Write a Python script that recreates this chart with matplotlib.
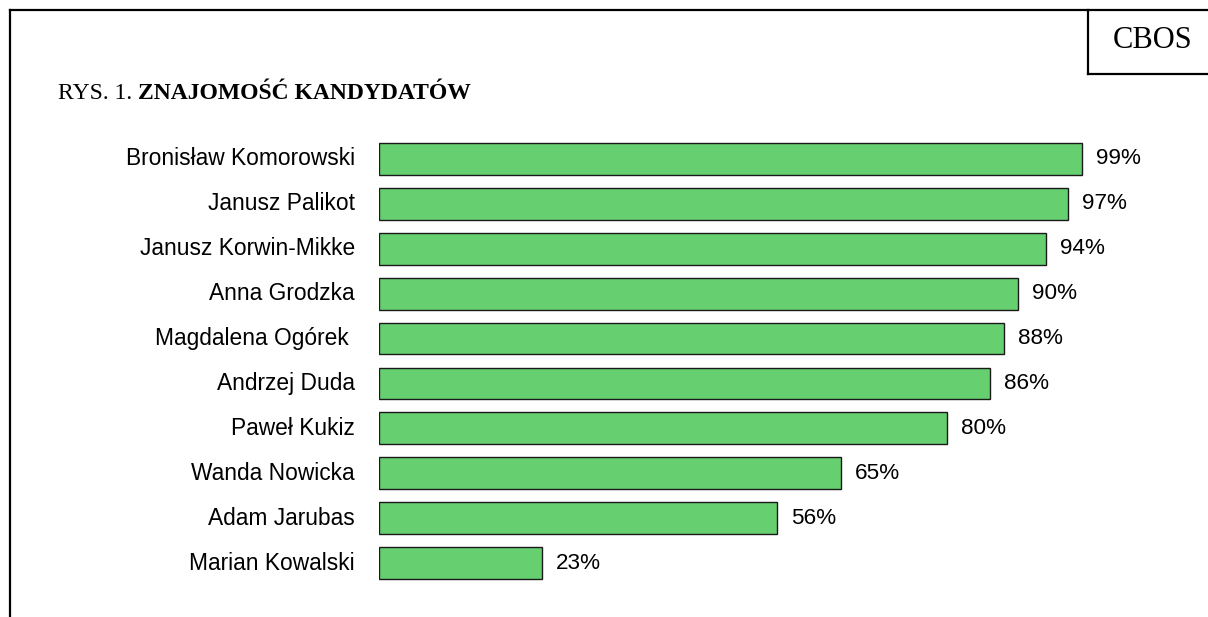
import matplotlib
matplotlib.use('Agg')
import matplotlib.pyplot as plt
from matplotlib.lines import Line2D

# Candidates and how many respondents know them (%)
candidates = ['Bronisław Komorowski', 'Janusz Palikot', 'Janusz Korwin-Mikke',
              'Anna Grodzka', 'Magdalena Ogórek ', 'Andrzej Duda', 'Paweł Kukiz',
              'Wanda Nowicka', 'Adam Jarubas', 'Marian Kowalski']
known = [99, 97, 94, 90, 88, 86, 80, 65, 56, 23]

W, H = 1208, 617
fig = plt.figure(figsize=(W / 100, H / 100), dpi=100)

# Axes placed so that 0% sits at x=379 px and 100% at x=1089 px
ax = fig.add_axes([379 / W, 1 - 585.5 / H, 710 / W, 449 / H])
pos = list(range(len(candidates)))
ax.barh(pos, known, height=0.71, color='#66cf70', edgecolor='#1a1a1a', linewidth=1.0)
ax.set_xlim(0, 100)
ax.set_ylim(len(candidates) - 0.5, -0.5)
ax.axis('off')

for y, name, v in zip(pos, candidates, known):
    ax.annotate(name, xy=(0, y), xytext=(-24, 0), textcoords='offset pixels',
                ha='right', va='center', fontsize=16.4, family='Liberation Sans')
    ax.annotate(f'{v}%', xy=(v, y), xytext=(14, 0), textcoords='offset pixels',
                ha='left', va='center', fontsize=16.2, family='Liberation Sans')

# Title: normal part followed by bold part
t1 = fig.text(58 / W, 1 - 99 / H, 'RYS. 1. ', fontsize=17, family='Liberation Serif',
              ha='left', va='baseline')
fig.canvas.draw()
ax.annotate('ZNAJOMOŚĆ KANDYDATÓW', xy=(1, 0), xycoords=t1, ha='left', va='bottom',
            fontsize=17, family='Liberation Serif', fontweight='bold',
            annotation_clip=False)

# Page frame and CBOS box
lw = 1.6
fig.add_artist(Line2D([10 / W, 10 / W], [0, 1 - 10 / H], color='black', lw=lw))
fig.add_artist(Line2D([10 / W, 1], [1 - 10 / H, 1 - 10 / H], color='black', lw=lw))
fig.add_artist(Line2D([1088 / W, 1088 / W], [1 - 10 / H, 1 - 74 / H], color='black', lw=lw))
fig.add_artist(Line2D([1088 / W, 1], [1 - 74 / H, 1 - 74 / H], color='black', lw=lw))
fig.text(1153 / W, 1 - 40 / H, 'CBOS', fontsize=22, family='Liberation Serif',
         ha='center', va='center')

fig.savefig('out.png', dpi=100)
